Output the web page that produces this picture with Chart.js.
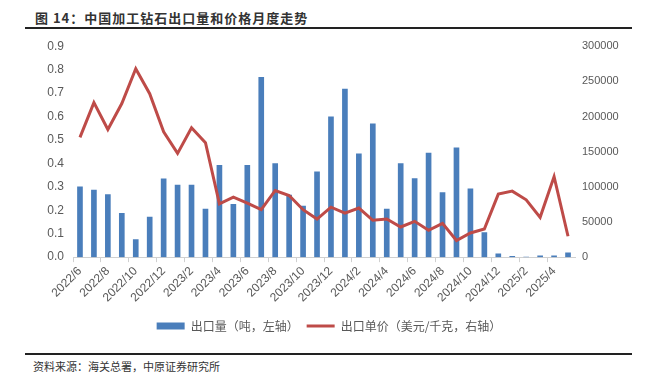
<!DOCTYPE html>
<html>
<head>
<meta charset="utf-8">
<script src="https://cdn.jsdelivr.net/npm/chart.js@4/dist/chart.umd.min.js"></script>
<style>
  html, body { margin: 0; padding: 0; background: #fff; }
  #wrap { position: relative; width: 648px; height: 384px; overflow: hidden; background: #fff; }
  #title { position: absolute; left: 35px; top: 9px; font-family: 'Noto Sans CJK SC', sans-serif; font-weight: bold; font-size: 13px; letter-spacing: 1px; color: #333; line-height: 18px; white-space: nowrap; }
  .rule { position: absolute; left: 25px; width: 607px; height: 2px; background: #222; }
  #source { position: absolute; left: 33px; top: 358px; font-family: 'Noto Sans CJK SC', sans-serif; font-size: 11px; color: #333; line-height: 16px; white-space: nowrap; }
  #cv { position: absolute; left: 0; top: 30px; }
</style>
</head>
<body>
<div id="wrap">
  <div id="title">图 14：中国加工钻石出口量和价格月度走势</div>
  <div class="rule" style="top:27px"></div>
  <canvas id="cv" width="648" height="320"></canvas>
  <div class="rule" style="top:353px"></div>
  <div id="source">资料来源：海关总署，中原证券研究所</div>
</div>
<script>
// ---- data ----
const months = [
  '2022/6','2022/7','2022/8','2022/9','2022/10','2022/11','2022/12',
  '2023/1','2023/2','2023/3','2023/4','2023/5','2023/6','2023/7','2023/8','2023/9','2023/10','2023/11','2023/12',
  '2024/1','2024/2','2024/3','2024/4','2024/5','2024/6','2024/7','2024/8','2024/9','2024/10','2024/11','2024/12',
  '2025/1','2025/2','2025/3','2025/4','2025/5'
];
const exportVolume = [
  0.30, 0.286, 0.267, 0.187, 0.075, 0.171, 0.334,
  0.307, 0.307, 0.205, 0.392, 0.225, 0.392, 0.767, 0.399, 0.265, 0.218, 0.364, 0.599,
  0.717, 0.441, 0.569, 0.205, 0.399, 0.335, 0.444, 0.275, 0.466, 0.291, 0.105, 0.014,
  0.003, 0.0, 0.006, 0.006, 0.018
];
const exportPrice = [
  170300, 219800, 181600, 218400, 267900, 232500, 178300,
  147600, 184000, 162700, 75900, 85400, 76900, 67500, 94800, 87700, 67500, 54200, 71000,
  62700, 69800, 52400, 54200, 42900, 50900, 38200, 48100, 23600, 34400, 40100, 89600,
  93900, 81600, 56600, 114600, 29700
];
const volumeLabel = '出口量（吨，左轴）';
const priceLabel = '出口单价（美元/千克，右轴）';
const leftTicksMax = 0.9;
const rightTicksMax = 300000;

const tickColor = '#595959';
const latin = "'Liberation Sans', 'Noto Sans CJK SC', sans-serif";
const cjk = "'Noto Sans CJK SC', sans-serif";

new Chart(document.getElementById('cv'), {
  type: 'bar',
  data: {
    labels: months,
    datasets: [
      {
        label: volumeLabel,
        data: exportVolume,
        backgroundColor: '#4a7ebb',
        borderWidth: 0,
        barThickness: 5,
        yAxisID: 'y',
        order: 1
      },
      {
        type: 'line',
        label: priceLabel,
        data: exportPrice,
        borderColor: '#be4b48',
        backgroundColor: '#be4b48',
        borderWidth: 3,
        pointRadius: 0,
        tension: 0,
        yAxisID: 'y1',
        order: 0
      }
    ]
  },
  options: {
    responsive: false,
    animation: false,
    devicePixelRatio: 1,
    layout: { padding: { top: 16, left: 10, right: 0, bottom: 8 } },
    plugins: {
      tooltip: { enabled: false },
      title: { display: false },
      legend: {
        display: true,
        position: 'bottom',
        labels: {
          font: { family: cjk, size: 12 },
          color: tickColor,
          usePointStyle: true,
          pointStyleWidth: 28,
          boxHeight: 7,
          padding: 8,
          sort: (a, b) => a.datasetIndex - b.datasetIndex,
          generateLabels: (chart) => chart.data.datasets.map((ds, i) => ({
            text: ds.label,
            datasetIndex: i,
            fillStyle: ds.type === 'line' ? ds.borderColor : ds.backgroundColor,
            strokeStyle: ds.type === 'line' ? ds.borderColor : ds.backgroundColor,
            lineWidth: ds.type === 'line' ? 3 : 0,
            pointStyle: ds.type === 'line' ? 'line' : 'rect',
            fontColor: tickColor,
            hidden: false
          }))
        }
      }
    },
    scales: {
      x: {
        offset: true,
        grid: {
          offset: true,
          drawOnChartArea: false,
          drawTicks: true,
          tickLength: 5,
          color: (ctx) => (ctx.index % 2 === 0 ? '#d0d0d0' : 'rgba(0,0,0,0)')
        },
        border: { display: true, color: '#d0d0d0', width: 1 },
        ticks: {
          autoSkip: false,
          minRotation: 45,
          maxRotation: 45,
          padding: 2,
          color: tickColor,
          font: { family: latin, size: 12 },
          callback: function (v, i) { return i % 2 === 0 ? months[i] : ''; }
        },
        afterFit: (s) => { s.height += 5; }
      },
      y: {
        position: 'left',
        min: 0,
        max: leftTicksMax,
        grid: { display: false, drawTicks: false },
        border: { display: false },
        ticks: {
          stepSize: 0.1,
          padding: 9,
          color: tickColor,
          font: { family: latin, size: 12 },
          callback: (v) => Number(v).toFixed(1)
        },
        afterFit: (s) => { s.width = 63; }
      },
      y1: {
        position: 'right',
        min: 0,
        max: rightTicksMax,
        grid: { display: false, drawTicks: false },
        border: { display: false },
        ticks: {
          stepSize: 50000,
          padding: 7,
          color: tickColor,
          font: { family: latin, size: 11 },
          callback: (v) => String(v)
        },
        afterFit: (s) => { s.width = 73; }
      }
    }
  }
});
</script>
</body>
</html>
